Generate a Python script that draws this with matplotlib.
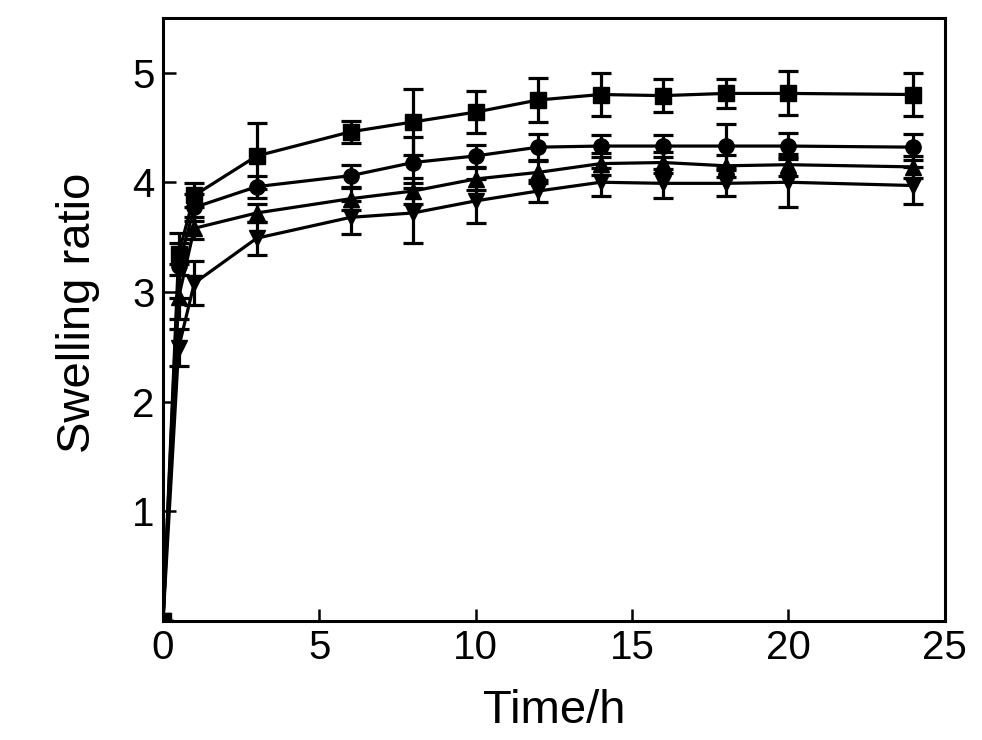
import matplotlib.pyplot as plt

plt.rcParams['font.family'] = ['Liberation Sans', 'DejaVu Sans']

time_h = [0, 0.5, 1, 3, 6, 8, 10, 12, 14, 16, 18, 20, 24]

sq = [0, 3.35, 3.88, 4.24, 4.46, 4.55, 4.64, 4.75, 4.80, 4.79, 4.81, 4.81, 4.80]
sq_err = [0, 0.10, 0.11, 0.30, 0.10, 0.30, 0.19, 0.20, 0.20, 0.15, 0.13, 0.20, 0.20]

circ = [0, 3.24, 3.77, 3.96, 4.06, 4.18, 4.24, 4.32, 4.33, 4.33, 4.33, 4.33, 4.32]
circ_err = [0, 0.30, 0.12, 0.10, 0.10, 0.23, 0.10, 0.12, 0.10, 0.10, 0.20, 0.12, 0.12]

tri_up = [0, 2.95, 3.58, 3.72, 3.85, 3.92, 4.03, 4.09, 4.17, 4.18, 4.15, 4.16, 4.14]
tri_up_err = [0, 0.20, 0.10, 0.08, 0.10, 0.12, 0.10, 0.10, 0.10, 0.10, 0.10, 0.10, 0.10]

tri_dn = [0, 2.49, 3.08, 3.49, 3.68, 3.72, 3.83, 3.92, 4.00, 3.99, 3.99, 4.00, 3.97]
tri_dn_err = [0, 0.17, 0.20, 0.15, 0.15, 0.27, 0.20, 0.10, 0.13, 0.13, 0.12, 0.23, 0.17]

series = [(sq, sq_err, 's'), (circ, circ_err, 'o'),
          (tri_up, tri_up_err, '^'), (tri_dn, tri_dn_err, 'v')]

fig = plt.figure(figsize=(9.82, 7.40), dpi=100)
ax = fig.add_axes([0.166, 0.161, 0.796, 0.815])

for vals, errs, m in series:
    ax.errorbar(time_h, vals, yerr=errs, marker=m, color='black', lw=2.3,
                ms=11, capsize=7, capthick=2.3, elinewidth=2.3)

ax.set_xlim(0, 25)
ax.set_ylim(0, 5.5)
ax.set_xticks([0, 5, 10, 15, 20, 25])
ax.set_yticks([1, 2, 3, 4, 5])
ax.tick_params(direction='in', length=9, width=1.8, labelsize=29, pad=6)
for s in ax.spines.values():
    s.set_linewidth(2.2)

ax.set_xlabel('Time/h', fontsize=34, labelpad=16)
ax.set_ylabel('Swelling ratio', fontsize=34)
ax.yaxis.set_label_coords(-0.08, 0.51)

fig.savefig('out.png', dpi=100)
